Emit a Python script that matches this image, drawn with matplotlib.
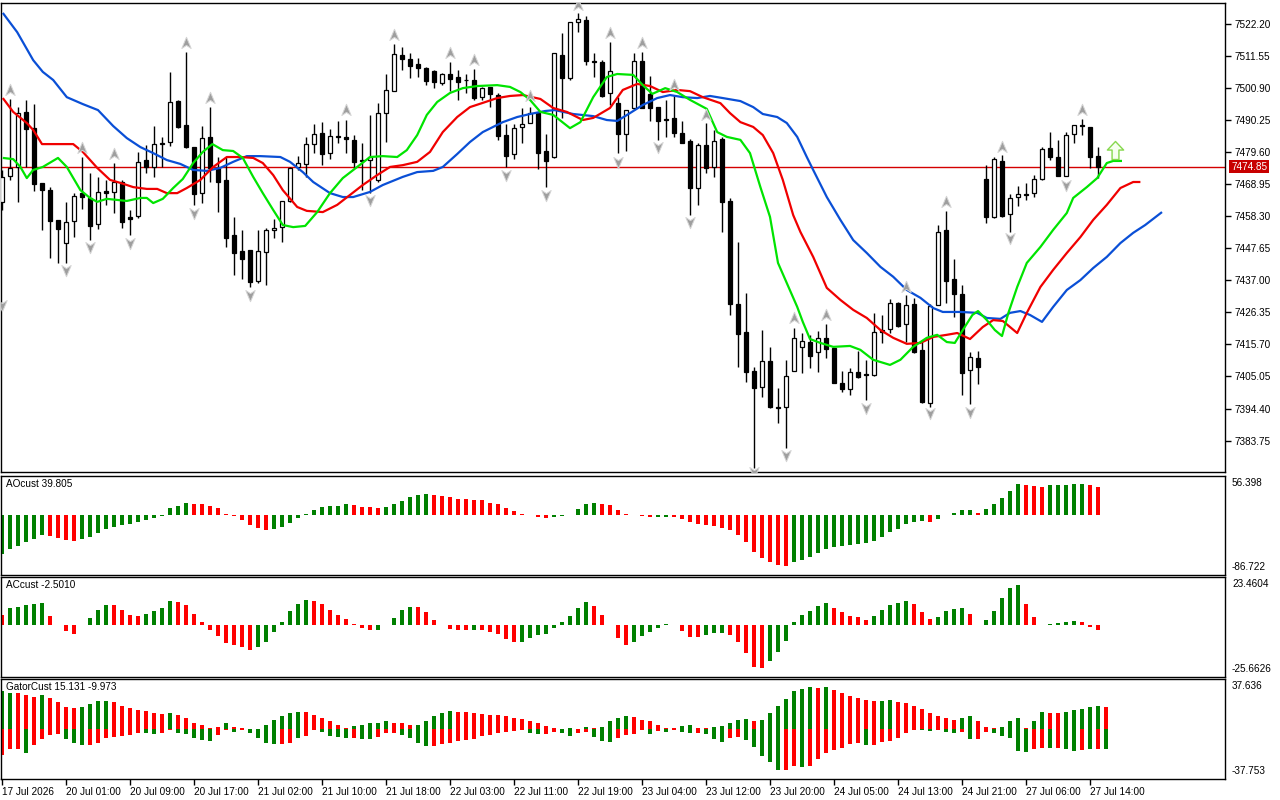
import matplotlib
matplotlib.use("Agg")
import matplotlib.pyplot as plt
import numpy as np
from matplotlib.path import Path

plt.rcParams['font.family'] = ['Liberation Sans', 'DejaVu Sans']

# ---------------- data ----------------
opens = [7463.1, 7471.7, 7474.7, 7493.0, 7487.6, 7469.4, 7467.0, 7457.1, 7449.4, 7456.7,
         7466.0, 7464.4, 7455.7, 7466.7, 7466.4, 7469.7, 7458.1, 7458.4, 7477.0, 7474.7,
         7482.3, 7483.0, 7496.6, 7488.6, 7481.3, 7466.0, 7484.7, 7474.4, 7470.4, 7452.1,
         7446.8, 7447.1, 7436.8, 7446.4, 7453.8, 7454.7, 7463.4, 7474.7, 7475.7, 7482.3,
         7486.0, 7479.3, 7485.0, 7484.7, 7483.7, 7476.7, 7477.0, 7470.4, 7492.6, 7499.9,
         7511.9, 7510.6, 7508.9, 7507.6, 7506.6, 7502.6, 7505.6, 7504.6, 7503.6, 7503.6,
         7497.9, 7501.3, 7498.6, 7485.3, 7479.0, 7488.0, 7489.3, 7492.6, 7480.0, 7478.0,
         7511.9, 7504.3, 7522.9, 7523.5, 7509.9, 7509.6, 7499.3, 7496.0, 7485.7, 7494.3,
         7509.9, 7499.0, 7494.6, 7490.6, 7491.0, 7486.0, 7483.3, 7467.7, 7482.0, 7474.7,
         7484.0, 7463.4, 7429.2, 7419.9, 7406.9, 7401.6, 7410.2, 7394.9, 7394.9, 7406.9,
         7414.9, 7416.5, 7413.2, 7417.9, 7414.5, 7402.9, 7400.9, 7406.6, 7405.9, 7405.6,
         7420.5, 7420.9, 7429.5, 7422.5, 7429.2, 7413.9, 7396.3, 7428.8, 7453.8, 7437.5,
         7432.5, 7407.2, 7411.2, 7470.7, 7458.1, 7476.7, 7459.1, 7464.7, 7465.7, 7466.0,
         7470.7, 7481.0, 7478.0, 7471.7, 7485.7, 7488.6, 7488.0, 7478.3]
highs = [7473.7, 7497.3, 7494.6, 7497.0, 7495.6, 7469.4, 7468.0, 7457.1, 7463.1, 7466.0,
         7478.0, 7472.7, 7471.4, 7470.4, 7476.0, 7470.4, 7460.4, 7479.7, 7482.0, 7488.3,
         7484.7, 7506.3, 7497.0, 7512.9, 7481.3, 7488.3, 7494.6, 7478.0, 7478.0, 7458.1,
         7453.8, 7447.1, 7453.8, 7454.4, 7457.4, 7463.4, 7474.7, 7478.3, 7484.7, 7489.0,
         7489.6, 7487.3, 7490.0, 7490.3, 7485.3, 7482.7, 7492.0, 7496.0, 7505.6, 7515.6,
         7514.6, 7512.6, 7510.9, 7507.9, 7506.9, 7505.9, 7509.6, 7506.9, 7505.6, 7507.3,
         7501.3, 7501.3, 7499.3, 7489.0, 7489.0, 7494.3, 7494.6, 7493.0, 7485.7, 7512.6,
         7519.2, 7522.9, 7525.9, 7524.9, 7512.6, 7510.2, 7516.2, 7498.0, 7493.6, 7512.6,
         7512.9, 7504.9, 7494.6, 7497.0, 7498.6, 7490.0, 7484.0, 7482.7, 7489.3, 7487.0,
         7484.7, 7464.4, 7449.8, 7432.8, 7408.2, 7420.5, 7414.9, 7401.3, 7410.6, 7421.2,
         7419.5, 7418.9, 7420.2, 7422.5, 7414.5, 7406.9, 7407.9, 7413.5, 7410.6, 7426.2,
         7425.5, 7430.8, 7429.8, 7432.1, 7431.2, 7417.2, 7429.2, 7455.4, 7460.1, 7444.1,
         7435.5, 7413.2, 7413.5, 7475.3, 7478.0, 7478.6, 7465.7, 7468.4, 7469.4, 7472.0,
         7481.3, 7486.3, 7483.7, 7486.3, 7488.6, 7490.6, 7488.0, 7481.3]
lows = [7460.4, 7470.4, 7463.1, 7474.7, 7466.7, 7453.8, 7444.5, 7442.8, 7442.8, 7451.4,
        7460.7, 7450.4, 7454.1, 7462.1, 7459.4, 7454.4, 7452.1, 7457.7, 7472.7, 7471.4,
        7474.7, 7481.7, 7487.6, 7481.0, 7462.1, 7462.7, 7469.7, 7459.7, 7448.1, 7438.8,
        7437.5, 7434.8, 7436.1, 7435.5, 7451.1, 7449.8, 7463.1, 7473.7, 7471.4, 7479.3,
        7475.3, 7477.3, 7482.7, 7479.3, 7474.4, 7467.0, 7466.0, 7469.7, 7483.0, 7499.9,
        7506.9, 7504.3, 7504.6, 7501.9, 7501.0, 7501.9, 7499.9, 7497.0, 7499.3, 7497.0,
        7497.0, 7494.6, 7483.7, 7474.7, 7477.3, 7482.7, 7489.3, 7474.0, 7468.0, 7477.7,
        7491.0, 7503.6, 7519.5, 7508.6, 7504.6, 7497.9, 7495.3, 7479.3, 7480.0, 7493.6,
        7494.3, 7490.0, 7483.7, 7484.7, 7484.7, 7482.7, 7458.7, 7462.1, 7472.7, 7471.4,
        7453.1, 7425.5, 7408.2, 7403.2, 7374.7, 7398.3, 7394.6, 7389.6, 7381.3, 7406.9,
        7406.2, 7407.9, 7406.6, 7411.2, 7402.9, 7400.0, 7398.9, 7404.6, 7397.3, 7405.2,
        7416.2, 7419.5, 7421.5, 7416.5, 7412.9, 7396.3, 7395.0, 7428.8, 7429.5, 7424.8,
        7398.9, 7395.9, 7402.6, 7456.1, 7457.7, 7458.1, 7453.1, 7461.7, 7463.7, 7464.7,
        7470.4, 7477.0, 7471.7, 7471.7, 7482.7, 7485.3, 7474.4, 7471.0]
closes = [7471.4, 7474.4, 7492.6, 7487.3, 7469.0, 7467.0, 7456.7, 7454.1, 7456.4, 7465.1,
          7464.7, 7455.1, 7466.4, 7466.0, 7469.7, 7456.4, 7457.4, 7476.4, 7474.7, 7482.3,
          7482.7, 7496.3, 7488.0, 7481.3, 7465.7, 7484.3, 7474.4, 7469.7, 7451.1, 7446.1,
          7444.1, 7436.5, 7446.8, 7453.8, 7454.4, 7463.4, 7474.4, 7476.0, 7482.3, 7485.7,
          7479.0, 7485.0, 7484.7, 7484.0, 7476.4, 7477.0, 7478.0, 7492.6, 7500.3, 7512.2,
          7510.6, 7508.3, 7507.6, 7503.3, 7502.9, 7505.6, 7503.9, 7502.9, 7503.6, 7497.6,
          7501.0, 7499.0, 7485.0, 7478.3, 7487.6, 7489.0, 7492.6, 7479.3, 7476.7, 7512.6,
          7504.3, 7522.9, 7523.9, 7509.9, 7509.6, 7498.3, 7506.6, 7485.7, 7493.6, 7509.9,
          7494.3, 7494.3, 7490.0, 7490.3, 7486.0, 7482.7, 7467.7, 7482.0, 7474.4, 7483.3,
          7463.1, 7429.2, 7419.2, 7406.6, 7401.3, 7410.2, 7394.9, 7394.6, 7405.2, 7417.9,
          7416.9, 7411.9, 7417.9, 7414.2, 7402.9, 7400.9, 7406.6, 7404.9, 7405.6, 7419.9,
          7419.9, 7429.5, 7421.9, 7428.8, 7413.2, 7396.6, 7428.5, 7453.1, 7436.8, 7432.5,
          7406.2, 7411.5, 7408.2, 7458.1, 7477.3, 7458.4, 7464.4, 7465.7, 7465.5, 7470.7,
          7480.7, 7478.0, 7471.7, 7485.3, 7488.6, 7488.3, 7478.0, 7474.85]

# Alligator lines (bar position, price)
jaw_x = [0.1, 1.9, 3.9, 5.1, 6.4, 8.1, 10.1, 12.0, 13.9, 15.6, 17.3, 18.9, 20.6, 22.3, 23.9, 25.6, 27.3,
         28.9, 30.6, 32.3, 34.8, 36.0, 37.6, 38.9, 41.0, 42.6, 43.9, 46.0, 47.6, 50.1, 51.9, 53.9, 55.1,
         56.9, 58.5, 60.1, 62.6, 64.4, 66.0, 67.9, 69.1, 71.4, 73.9, 75.6, 76.9, 78.5, 80.1, 81.9, 83.5,
         85.1, 86.9, 88.5, 90.1, 92.3, 93.9, 95.1, 96.9, 98.1, 99.4, 100.6, 101.4, 103.1, 104.8, 106.4,
         108.1, 109.8, 111.4, 113.1, 114.8, 116.4, 117.6, 119.8, 121.9, 123.1, 124.8, 126.0, 127.3,
         128.5, 130.0, 131.4, 133.1, 134.8, 136.4, 138.1, 139.8, 141.4, 142.9, 145.0]
jaw = [7525.9, 7519.5, 7510.2, 7506.3, 7503.6, 7497.9, 7495.6, 7493.6, 7488.3, 7484.3,
       7481.3, 7479.3, 7477.0, 7475.7, 7473.7, 7473.4, 7474.4, 7476.4, 7478.3, 7478.3,
       7478.0, 7476.4, 7473.0, 7469.7, 7466.0, 7464.7, 7464.7, 7466.4, 7468.7, 7471.4,
       7473.0, 7473.4, 7474.7, 7479.0, 7483.0, 7486.3, 7489.6, 7491.3, 7492.3, 7493.3,
       7493.6, 7492.3, 7491.6, 7490.3, 7490.0, 7492.6, 7495.3, 7497.6, 7498.6, 7497.9,
       7497.6, 7498.3, 7497.6, 7496.6, 7494.6, 7492.3, 7491.3, 7489.3, 7484.7, 7478.0,
       7473.7, 7464.7, 7457.1, 7450.4, 7446.1, 7441.5, 7438.2, 7433.8, 7431.2, 7427.8,
       7426.5, 7426.5, 7426.2, 7424.5, 7424.2, 7426.2, 7426.8, 7425.5, 7423.2, 7428.2,
       7433.8, 7437.1, 7441.1, 7444.8, 7449.4, 7452.8, 7455.4, 7459.7]
teeth_x = [0.1, 1.4, 3.1, 3.9, 5.0, 8.9, 10.1, 11.9, 13.5, 14.8, 16.4, 18.1, 19.4, 20.6, 21.9, 23.1,
           24.8, 26.4, 28.1, 29.8, 31.4, 32.6, 33.9, 35.1, 36.9, 38.1, 40.1, 41.9, 43.5, 45.1, 46.9,
           48.5, 50.1, 51.9, 53.5, 55.1, 56.9, 58.5, 60.1, 61.9, 63.5, 65.1, 67.3, 68.9, 70.6, 72.6,
           73.9, 76.0, 77.6, 79.4, 81.0, 82.6, 84.4, 86.0, 87.6, 89.8, 91.0, 92.3, 93.9, 95.1, 96.4,
           97.6, 98.9, 99.8, 101.4, 103.1, 104.8, 106.4, 108.1, 109.8, 111.4, 113.1, 114.8, 116.4,
           118.1, 119.4, 121.0, 122.6, 123.9, 125.1, 126.9, 128.1, 129.8, 131.4, 133.1, 134.8, 136.4,
           138.1, 139.8, 141.4, 142.3]
teeth = [7497.6, 7493.0, 7489.3, 7487.0, 7482.3, 7482.3, 7479.7, 7474.4, 7470.4, 7469.4,
         7468.0, 7467.4, 7467.4, 7466.0, 7466.0, 7467.7, 7470.4, 7474.7, 7478.0, 7478.0,
         7477.7, 7476.0, 7472.0, 7467.0, 7461.4, 7460.1, 7459.7, 7462.1, 7465.4, 7468.7,
         7472.0, 7474.7, 7475.3, 7476.4, 7479.7, 7486.3, 7491.3, 7494.6, 7496.0, 7497.6,
         7498.3, 7498.6, 7497.3, 7494.3, 7493.0, 7490.3, 7491.0, 7494.3, 7500.3, 7502.3,
         7501.6, 7499.6, 7500.3, 7499.9, 7497.9, 7495.9, 7492.6, 7489.6, 7488.0, 7485.3,
         7479.3, 7470.4, 7458.7, 7453.1, 7444.8, 7434.5, 7430.5, 7427.2, 7424.5, 7420.5,
         7417.9, 7415.9, 7416.2, 7418.2, 7418.9, 7419.5, 7417.5, 7421.5, 7423.8, 7423.5,
         7419.5, 7426.2, 7434.8, 7440.5, 7446.1, 7451.4, 7457.1, 7462.1, 7467.7, 7469.7, 7469.7]
lips_x = [0.1, 1.4, 2.3, 3.1, 3.9, 5.1, 7.0, 8.1, 9.8, 11.0, 11.9, 13.1, 15.6, 17.3, 18.1, 18.9,
          20.1, 21.4, 22.6, 23.9, 25.1, 26.3, 27.6, 28.9, 30.1, 31.4, 32.6, 33.9, 35.1, 36.4, 37.9,
          39.4, 41.0, 42.6, 44.4, 46.0, 47.6, 49.4, 50.6, 51.9, 53.1, 54.4, 56.0, 57.6, 59.4, 61.9,
          63.5, 64.8, 66.0, 67.3, 68.9, 71.0, 72.3, 73.9, 75.6, 76.9, 78.9, 80.1, 81.3, 82.9, 84.4,
          86.0, 88.1, 89.4, 90.6, 92.3, 93.5, 94.8, 96.0, 97.0, 98.1, 99.4, 100.1, 101.0, 102.3,
          103.9, 106.0, 107.3, 108.9, 111.0, 112.3, 113.9, 115.6, 116.9, 118.1, 119.1, 120.1, 121.3,
          122.0, 123.1, 124.1, 125.0, 125.8, 126.9, 128.1, 129.8, 131.4, 133.1, 133.9, 135.6, 136.9,
          138.1, 138.9, 140.0]
lips = [7477.7, 7477.3, 7474.7, 7471.0, 7473.7, 7474.7, 7477.7, 7474.7, 7467.0, 7464.4,
        7463.1, 7464.1, 7463.4, 7464.4, 7464.4, 7462.7, 7464.1, 7467.7, 7470.7, 7476.0,
        7479.7, 7482.3, 7480.3, 7480.0, 7477.7, 7471.4, 7466.0, 7460.4, 7455.4, 7454.7,
        7455.1, 7459.7, 7466.0, 7471.0, 7474.7, 7478.0, 7478.3, 7478.0, 7480.3, 7485.3,
        7492.0, 7496.3, 7499.3, 7500.9, 7501.6, 7501.9, 7501.3, 7499.6, 7497.0, 7493.0,
        7492.0, 7487.6, 7489.6, 7497.9, 7504.6, 7505.6, 7505.3, 7501.9, 7499.0, 7500.9,
        7499.6, 7497.0, 7494.0, 7486.3, 7484.7, 7483.7, 7479.3, 7468.0, 7458.1, 7442.8,
        7436.1, 7428.2, 7423.2, 7417.5, 7416.2, 7414.9, 7415.2, 7413.9, 7410.6, 7408.9,
        7410.6, 7414.9, 7417.9, 7418.9, 7416.5, 7416.2, 7420.5, 7425.5, 7426.8, 7423.8,
        7420.5, 7418.5, 7426.2, 7434.8, 7442.8, 7448.1, 7453.8, 7459.4, 7464.4, 7468.0,
        7471.0, 7476.0, 7476.7, 7476.7]

# fractals
frac_up_idx = [1, 10, 14, 23, 26, 43, 49, 56, 59, 66, 72, 76, 80, 84, 88, 99, 103, 113, 118, 125, 135]
frac_up_val = [7500.3, 7481.0, 7479.0, 7515.9, 7497.6, 7493.6, 7518.5, 7512.6, 7510.2, 7498.3, 7528.5,
               7519.2, 7515.9, 7501.9, 7492.0, 7424.5, 7425.5, 7434.8, 7463.1, 7481.3, 7493.6]
frac_dn_idx = [0, 8, 11, 16, 24, 31, 46, 63, 68, 77, 82, 86, 94, 98, 108, 116, 121, 126, 133]
frac_dn_val = [7428.8, 7440.5, 7448.1, 7449.4, 7459.4, 7432.2, 7463.7, 7472.0, 7465.4, 7476.4, 7481.3,
               7456.4, 7373.3, 7379.0, 7394.6, 7392.9, 7393.3, 7451.1, 7468.7]
signal_idx = [139.1]
signal_val = [7480.3]

last_price = 7474.85
price_ticks = [7522.20, 7511.55, 7500.90, 7490.25, 7479.60, 7468.95, 7458.30,
               7447.65, 7437.00, 7426.35, 7415.70, 7405.05, 7394.40, 7383.75]

# AO
ao = [-56.9, -49.6, -44.8, -39.0, -35.2, -29.4, -30.8, -33.7, -36.6, -38.1,
      -35.2, -31.8, -26.5, -20.7, -16.9, -14.9, -13.5, -10.1, -7.7, -3.9,
      -1.0, 9.6, 13.0, 16.9, 16.6, 15.4, 12.5, 9.6, 1.9, -1.9,
      -7.2, -14.5, -18.3, -21.7, -19.8, -17.3, -11.6, -3.9, 1.0, 6.7,
      11.1, 12.5, 13.5, 15.4, 14.0, 11.2, 11.1, 10.1, 11.1, 15.4,
      20.2, 26.0, 28.9, 29.9, 28.4, 27.0, 25.5, 23.6, 23.1, 22.2,
      21.2, 17.8, 15.4, 10.1, 5.3, 1.9, 0.5, -3.4, -4.3, -2.9,
      -1.4, -0.3, 8.2, 15.4, 16.9, 16.5, 14.0, 6.7, 1.0, 0.5,
      -1.9, -3.4, -2.9, -2.4, -3.4, -6.3, -10.6, -13.5, -14.9, -16.4,
      -19.3, -22.2, -29.4, -39.5, -54.0, -62.6, -68.4, -72.3, -73.7, -68.4,
      -65.5, -61.2, -55.4, -49.6, -46.7, -44.8, -43.4, -42.4, -41.0, -38.1,
      -31.8, -24.6, -20.2, -13.5, -10.1, -8.7, -10.1, -5.8, 0.5, 3.4,
      6.7, 6.9, 3.4, 8.2, 15.4, 24.1, 34.2, 44.3, 42.9, 41.4,
      40.0, 42.9, 43.0, 43.1, 44.3, 44.4, 42.9, 39.805]
ao_colors = ("gggggg" "rrrr" "gggggggggggggg" "rrrrrrrrrr" "gggggggggg" "rrrr" "gggggg"
             "rrrrrrrrrrrrrrr" "gggggg" "rrrrrrr" "gg" "rrrrrrrrrrrrrrr" "ggggggggggggggggg"
             "r" "ggggg" "r" "ggggg" "rrr" "ggggg" "rr")
ao_range = (-86.722, 56.398)

# AC
ac = [5.0, 8.4, 8.9, 9.9, 10.4, 10.5, 4.5, -0.2, -3.3, -4.3,
      -0.1, 3.5, 7.4, 9.9, 9.8, 7.4, 5.0, 4.5, 5.5, 6.9,
      8.4, 11.9, 11.4, 9.9, 5.5, 1.5, -2.5, -5.5, -8.9, -9.9,
      -10.9, -12.4, -10.9, -8.4, -3.5, 1.5, 6.9, 10.4, 12.4, 11.9,
      10.4, 7.4, 5.0, 3.0, 0.3, -1.5, -2.5, -2.4, 0.1, 3.5,
      7.4, 8.9, 8.8, 6.5, 2.5, -0.1, -2.0, -2.5, -2.55, -2.4,
      -2.6, -3.5, -4.5, -7.0, -8.4, -8.3, -6.5, -5.0, -4.5, -1.5,
      1.5, 4.5, 8.4, 11.4, 9.4, 5.0, -0.2, -6.5, -9.9, -8.4,
      -5.5, -3.5, -1.5, 0.3, -0.2, -3.0, -6.0, -6.1, -5.0, -4.0,
      -3.9, -5.0, -8.4, -13.9, -20.8, -21.3, -17.9, -13.4, -7.9, 1.5,
      5.0, 6.9, 9.4, 10.9, 8.4, 6.5, 4.5, 4.0, 2.5, 4.5,
      7.4, 9.9, 10.9, 11.9, 10.4, 6.5, 3.0, 4.0, 6.9, 7.9,
      8.4, 5.5, -0.2, 2.5, 6.9, 12.9, 17.9, 19.4, 10.4, 4.0,
      -0.2, 0.3, 1.0, 1.5, 2.0, 1.5, -1.0, -2.501]
ac_colors = ("r" "ggggg" "rrrr" "gggg" "rrrr" "gggg" "rrrrrrrrrr" "ggggggg" "rrrrrrrr" "ggggg"
             "rrrrrrr" "g" "rrrrr" "ggggggggg" "rrrrr" "ggggg" "rrrr" "ggg" "rrrrr" "gggggggg"
             "rrrrr" "ggggg" "rrr" "gggg" "rr" "ggggg" "rrr" "gggg" "rrr")
ac_range = (-25.6626, 23.4604)

# Gator
gator_up = [28.4, 27.2, 27.1, 25.6, 23.9, 25.4, 23.1, 20.1, 16.2, 15.5,
            16.2, 18.5, 20.8, 20.9, 20.1, 17.0, 15.5, 14.0, 13.2, 11.7,
            10.9, 11.7, 10.2, 7.9, 4.8, 3.3, 0.5, 1.8, 4.1, 1.8,
            0.5, 0.3, 0.2, 3.3, 7.1, 9.4, 11.7, 12.4, 12.4, 10.2,
            8.6, 5.6, 3.3, 0.5, 2.5, 3.3, 4.1, 4.8, 5.6, 4.8,
            4.1, 3.3, 3.3, 5.6, 9.4, 11.7, 13.2, 13.1, 12.7, 11.7,
            10.9, 10.8, 10.2, 9.4, 8.6, 7.6, 6.3, 4.8, 2.5, 1.0,
            0.3, 1.0, 0.3, 1.8, 1.0, 1.8, 5.6, 8.6, 9.4, 9.3,
            7.1, 5.6, 3.3, 1.0, 0.9, 2.5, 3.3, 1.0, 1.0, 1.8,
            2.5, 4.8, 7.1, 7.2, 6.3, 7.1, 11.7, 17.0, 22.3, 28.4,
            29.9, 31.5, 31.0, 31.5, 29.2, 26.9, 24.6, 23.1, 21.6, 20.8,
            20.9, 21.6, 20.1, 19.3, 17.0, 14.7, 11.7, 9.4, 7.9, 7.1,
            8.6, 9.4, 6.3, 1.8, 1.0, 1.8, 5.6, 7.9, 1.0, 6.3,
            12.4, 12.3, 12.2, 12.4, 14.0, 14.7, 16.2, 17.0, 16.9]
gator_dn = [-19.3, -15.5, -15.0, -18.0, -12.4, -7.4, -4.8, -4.1, -7.4, -10.4,
            -12.4, -12.3, -10.4, -6.6, -5.8, -5.7, -4.6, -2.8, -2.9, -4.1,
            -2.8, -1.0, -2.8, -4.1, -6.6, -8.1, -8.9, -4.8, -1.0, -2.0,
            -0.5, -2.8, -6.6, -10.4, -11.2, -11.1, -10.4, -6.6, -5.1, -1.0,
            -2.0, -5.1, -5.8, -6.6, -6.5, -7.4, -7.5, -5.8, -2.8, -2.7,
            -4.3, -6.6, -10.4, -12.7, -12.6, -11.7, -10.4, -8.9, -8.1, -7.4,
            -5.1, -4.3, -2.8, -2.0, -1.9, -1.0, -2.8, -4.1, -3.6, -2.0,
            -2.8, -5.1, -2.8, -2.0, -5.8, -8.9, -9.6, -6.6, -4.3, -3.6,
            -0.5, -3.6, -1.3, -2.0, -0.5, -2.0, -2.8, -2.7, -3.6, -7.4,
            -9.6, -6.6, -5.8, -8.1, -13.5, -20.3, -24.9, -31.0, -30.9, -27.9,
            -28.7, -27.9, -22.6, -18.0, -15.7, -14.2, -11.2, -10.4, -11.9, -11.8,
            -9.6, -8.9, -6.6, -2.8, -0.5, -0.6, -1.3, -0.5, -2.0, -2.8,
            -2.0, -7.4, -7.3, -2.0, -2.8, -5.1, -6.6, -16.5, -17.3, -15.0,
            -14.2, -14.3, -14.1, -15.0, -16.5, -15.7, -15.1, -15.0, -15.1]
gator_up_colors = ("ggrrrgrrrr" "ggggrrrrrr" "rgrrrrrrgr" "rgggggggrr" "rrrrgggggr"
                   "rrgggggrrr" "rrrrrrrrrr" "ggrgrggggr" "rrrrrggrrg" "ggggrggggg"
                   "ggrgrrrrrr" "ggrrrrrrrr" "ggrrrgggrg" "grrgggggr")
gator_dn_colors = ("rrrgrrrrgg" "grrrrrrrgg" "rrgggggrrg" "rggggrrgrr" "ggggrggrrr"
                   "ggggrrrrrr" "rrrrrrggrr" "ggrrgggrrr" "rgrgrggrgg" "grrgggggrr"
                   "grrrrrrrgr" "rrrrrggrgg" "rgrrgggggr" "rgrggrgrg")
gator_range = (-37.753, 37.636)

xtick_idx = [0, 8, 16, 24, 32, 40, 48, 56, 64, 72, 80, 88, 96, 104, 112, 120, 128, 136]
xtick_labels = ["17 Jul 2026", "20 Jul 01:00", "20 Jul 09:00", "20 Jul 17:00", "21 Jul 02:00",
                "21 Jul 10:00", "21 Jul 18:00", "22 Jul 03:00", "22 Jul 11:00", "22 Jul 19:00",
                "23 Jul 04:00", "23 Jul 12:00", "23 Jul 20:00", "24 Jul 05:00", "24 Jul 13:00",
                "24 Jul 21:00", "27 Jul 06:00", "27 Jul 14:00"]

# ---------------- figure ----------------
W, H = 1280, 800
fig = plt.figure(figsize=(12.8, 8.0), dpi=100)
fig.patch.set_facecolor('white')


def add_px(l, t, r, b):
    return fig.add_axes([l / W, 1 - b / H, (r - l) / W, (b - t) / H])


ax = add_px(1, 3, 1225, 472)
ax_ao = add_px(1, 476, 1225, 575)
ax_ac = add_px(1, 577, 1225, 677)
ax_g = add_px(1, 679, 1225, 779)

FS = 7.2
GREEN = '#008000'
RED = '#FF0000'
cmap = {'g': GREEN, 'r': RED}

for a in (ax, ax_ao, ax_ac, ax_g):
    a.set_xlim(-0.125, 152.875)
    a.set_facecolor('white')
    for s in a.spines.values():
        s.set_linewidth(1.0)
        s.set_color('black')
    a.tick_params(left=False, labelleft=False, bottom=False, labelbottom=False,
                  right=False, labelright=False)

# --- main price chart ---
n = len(closes)
x = np.arange(n)
O = np.array(opens); Hh = np.array(highs); L = np.array(lows); C = np.array(closes)
bull = C >= O
ax.axhline(last_price, color='#D40000', lw=1.0, zorder=1)
ax.vlines(x, L, Hh, color='black', lw=1.0, zorder=2)
ax.bar(x, np.abs(C - O), bottom=np.minimum(O, C), width=0.6,
       color=np.where(bull, 'white', 'black'), edgecolor='black', linewidth=0.9, zorder=3)

ax.plot(jaw_x[:len(jaw)], jaw[:len(jaw_x)], color='#0A4FD6', lw=1.6, zorder=4, solid_capstyle='butt')
ax.plot(teeth_x[:len(teeth)], teeth[:len(teeth_x)], color='#F00000', lw=1.6, zorder=4, solid_capstyle='butt')
ax.plot(lips_x[:len(lips)], lips[:len(lips_x)], color='#00E400', lw=1.6, zorder=4, solid_capstyle='butt')

up_path = Path([(0, 1), (0.75, -0.8), (0, -0.3), (-0.75, -0.8), (0, 1)],
               [Path.MOVETO, Path.LINETO, Path.LINETO, Path.LINETO, Path.CLOSEPOLY])
dn_path = Path([(0, -1), (0.75, 0.8), (0, 0.3), (-0.75, 0.8), (0, -1)],
               [Path.MOVETO, Path.LINETO, Path.LINETO, Path.LINETO, Path.CLOSEPOLY])
ax.plot(frac_up_idx, frac_up_val, linestyle='none', marker=up_path, markersize=9,
        markerfacecolor='#9e9e9e', markeredgecolor='#d4d4d4', markeredgewidth=0.7, zorder=5)
ax.plot(frac_dn_idx, frac_dn_val, linestyle='none', marker=dn_path, markersize=9,
        markerfacecolor='#9e9e9e', markeredgecolor='#d4d4d4', markeredgewidth=0.7, zorder=5)

sig_path = Path([(0, 1), (0.9, 0.05), (0.38, 0.05), (0.38, -1), (-0.38, -1), (-0.38, 0.05),
                 (-0.9, 0.05), (0, 1)],
                [Path.MOVETO] + [Path.LINETO] * 6 + [Path.CLOSEPOLY])
ax.plot(signal_idx, signal_val, linestyle='none', marker=sig_path, markersize=13,
        markerfacecolor='#f6fff0', markeredgecolor='#86d84e', markeredgewidth=1.0, zorder=6)

ax.set_ylim(7373.3, 7529.2)
ax.yaxis.tick_right()
ax.set_yticks(price_ticks)
ax.set_yticklabels([f"{v:.2f}" for v in price_ticks])
ax.tick_params(axis='y', right=True, labelright=True, length=4, width=1, pad=2.5,
               labelsize=FS, colors='black')
ax.annotate(f"{last_price:.2f}", xy=(1, last_price), xycoords=('axes fraction', 'data'),
            xytext=(4.5, 0), textcoords='offset points', ha='left', va='center',
            fontsize=FS, color='white', annotation_clip=False, zorder=10,
            bbox=dict(boxstyle='square,pad=0.18', fc='#C80000', ec='none'))


# --- sub panels ---
def panel(a, vals, cols, rng, title, width):
    xi = np.arange(len(vals))
    a.bar(xi, vals, width=width, color=[cmap[c] for c in cols[:len(vals)]], linewidth=0)
    a.set_ylim(rng[0], rng[1])
    a.text(5 / 1224, 1 - 3 / 99, title, transform=a.transAxes, ha='left', va='top',
           fontsize=FS, color='black')
    fmt_top = a.text(1 + 7 / 1224, 1 - 1.5 / 99, labels_of[a][0], transform=a.transAxes,
                     ha='left', va='top', fontsize=FS, color='black')
    a.text(1 + 7 / 1224, 2.5 / 99, labels_of[a][1], transform=a.transAxes,
           ha='left', va='bottom', fontsize=FS, color='black')


labels_of = {ax_ao: ("56.398", "-86.722"), ax_ac: ("23.4604", "-25.6626"),
             ax_g: ("37.636", "-37.753")}

panel(ax_ao, ao, ao_colors, ao_range, "AOcust 39.805", 0.45)
panel(ax_ac, ac, ac_colors, ac_range, "ACcust -2.5010", 0.45)

gx = np.arange(len(gator_up))
ax_g.bar(gx, gator_up, width=0.5, color=[cmap[c] for c in gator_up_colors[:len(gx)]], linewidth=0)
ax_g.bar(np.arange(len(gator_dn)), gator_dn, width=0.5,
         color=[cmap[c] for c in gator_dn_colors[:len(gator_dn)]], linewidth=0)
ax_g.set_ylim(*gator_range)
ax_g.text(5 / 1224, 1 - 3 / 99, "GatorCust 15.131 -9.973", transform=ax_g.transAxes,
          ha='left', va='top', fontsize=FS, color='black')
ax_g.text(1 + 7 / 1224, 1 - 1.5 / 99, labels_of[ax_g][0], transform=ax_g.transAxes,
          ha='left', va='top', fontsize=FS, color='black')
ax_g.text(1 + 7 / 1224, 2.5 / 99, labels_of[ax_g][1], transform=ax_g.transAxes,
          ha='left', va='bottom', fontsize=FS, color='black')

ax_g.set_xticks(xtick_idx)
ax_g.set_xticklabels(xtick_labels)
ax_g.tick_params(axis='x', bottom=True, labelbottom=True, length=4, width=1, pad=1.5,
                 labelsize=FS, colors='black')
for lbl in ax_g.get_xticklabels():
    lbl.set_horizontalalignment('left')

fig.savefig("out.png", dpi=100, facecolor='white')
